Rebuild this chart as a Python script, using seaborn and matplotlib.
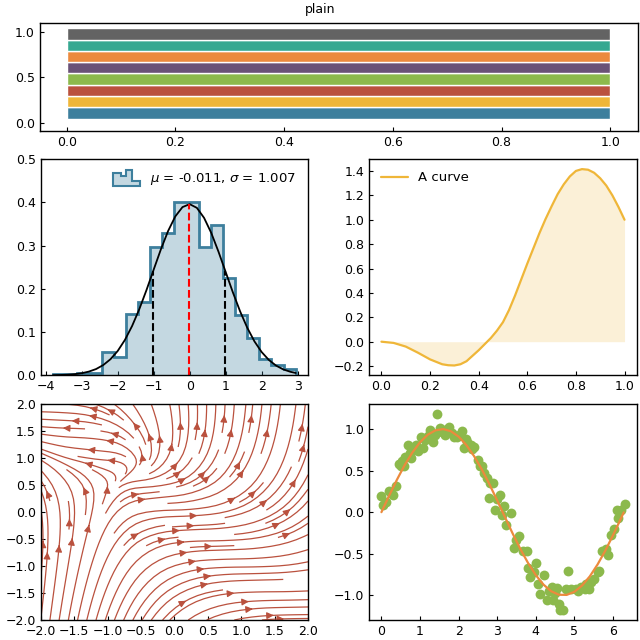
import numpy as np
import matplotlib
matplotlib.use("Agg")
import matplotlib.pyplot as plt
import seaborn as sns
from matplotlib.legend_handler import HandlerBase
from matplotlib.patches import Polygon
from matplotlib.colors import to_rgb
from matplotlib.ticker import MultipleLocator

# palette (bottom -> top)
bar_colors = ["#3d7f9d", "#efb638", "#ba513e", "#8cb94c",
              "#6a5277", "#ec8a3d", "#36a891", "#636363"]
bar_y = [0.107, 0.232, 0.357, 0.482, 0.607, 0.732, 0.857, 0.982]
bar_len = [1, 1, 1, 1, 1, 1, 1, 1]

# histogram (density) of the sample
hist_edges = [-3.80, -3.46, -3.12, -2.79, -2.45, -2.11, -1.78, -1.44, -1.10, -0.76, -0.43,
              -0.09, 0.25, 0.59, 0.92, 1.26, 1.60, 1.94, 2.27, 2.61, 2.95]
hist_dens = [0.003, 0.003, 0.006, 0.006, 0.053, 0.042, 0.142, 0.169, 0.296, 0.329,
             0.400, 0.400, 0.296, 0.347, 0.225, 0.139, 0.086, 0.037, 0.024, 0.015]
pdf_x = [-3.8, -3.6, -3.4, -3.2, -3.0, -2.8, -2.6, -2.4, -2.2, -2.0, -1.8, -1.6, -1.4,
         -1.2, -1.0, -0.8, -0.6, -0.4, -0.2, 0.0, 0.2, 0.4, 0.6, 0.8, 1.0, 1.2, 1.4,
         1.6, 1.8, 2.0, 2.2, 2.4, 2.6, 2.8, 2.95]
pdf_y = [0.0003, 0.0007, 0.0014, 0.0026, 0.0048, 0.0086, 0.0145, 0.0238, 0.0373, 0.0563,
         0.0818, 0.1141, 0.1530, 0.1973, 0.2446, 0.2915, 0.3339, 0.3677, 0.3893, 0.3962,
         0.3876, 0.3645, 0.3296, 0.2864, 0.2393, 0.1922, 0.1484, 0.1102, 0.0786, 0.0539,
         0.0356, 0.0225, 0.0137, 0.0081, 0.0053]
vline_x = [-1.018, -0.011, 0.996]
vline_top = [0.2406, 0.3962, 0.2403]
legend_label = r"$\mu$ = -0.011, $\sigma$ = 1.007"

# "A curve"
curve_x = [0.0, 0.05, 0.1, 0.15, 0.2, 0.25, 0.275, 0.3, 0.325, 0.35, 0.4, 0.45, 0.475,
           0.5, 0.525, 0.55, 0.575, 0.6, 0.625, 0.65, 0.675, 0.7, 0.725, 0.75, 0.775,
           0.8, 0.825, 0.85, 0.875, 0.9, 0.925, 0.95, 0.975, 1.0]
curve_y = [0.0, -0.01, -0.04, -0.09, -0.145, -0.185, -0.193, -0.195, -0.185, -0.16,
           -0.07, 0.03, 0.09, 0.16, 0.26, 0.38, 0.51, 0.64, 0.765, 0.89, 1.005, 1.11,
           1.21, 1.29, 1.355, 1.40, 1.415, 1.41, 1.385, 1.34, 1.28, 1.20, 1.105, 1.00]

# vector field for the streamplot
grid_x = [-2.0, -1.5, -1.0, -0.5, 0.0, 0.5, 1.0, 1.5, 2.0]
grid_y = [-2.0, -1.5, -1.0, -0.5, 0.0, 0.5, 1.0, 1.5, 2.0]
field_u = [
    [1.5, 2.0, 2.5, 3.0, 3.5, 4.0, 4.5, 5.0, 5.5],
    [1.0, 1.5, 2.0, 2.5, 3.0, 3.5, 4.0, 4.5, 5.0],
    [0.5, 1.0, 1.5, 2.0, 2.5, 3.0, 3.5, 4.0, 4.5],
    [0.0, 0.5, 1.0, 1.5, 2.0, 2.5, 3.0, 3.5, 4.0],
    [-0.5, 0.0, 0.5, 1.0, 1.5, 2.0, 2.5, 3.0, 3.5],
    [-1.0, -0.5, 0.0, 0.5, 1.0, 1.5, 2.0, 2.5, 3.0],
    [-1.5, -1.0, -0.5, 0.0, 0.5, 1.0, 1.5, 2.0, 2.5],
    [-2.0, -1.5, -1.0, -0.5, 0.0, 0.5, 1.0, 1.5, 2.0],
    [-2.5, -2.0, -1.5, -1.0, -0.5, 0.0, 0.5, 1.0, 1.5],
]
field_v = [
    [16.0, 12.25, 9.0, 6.25, 4.0, 2.25, 1.0, 0.25, 0.0],
    [12.25, 9.0, 6.25, 4.0, 2.25, 1.0, 0.25, 0.0, 0.25],
    [9.0, 6.25, 4.0, 2.25, 1.0, 0.25, 0.0, 0.25, 1.0],
    [6.25, 4.0, 2.25, 1.0, 0.25, 0.0, 0.25, 1.0, 2.25],
    [4.0, 2.25, 1.0, 0.25, 0.0, 0.25, 1.0, 2.25, 4.0],
    [2.25, 1.0, 0.25, 0.0, 0.25, 1.0, 2.25, 4.0, 6.25],
    [1.0, 0.25, 0.0, 0.25, 1.0, 2.25, 4.0, 6.25, 9.0],
    [0.25, 0.0, 0.25, 1.0, 2.25, 4.0, 6.25, 9.0, 12.25],
    [0.0, 0.25, 1.0, 2.25, 4.0, 6.25, 9.0, 12.25, 16.0],
]

# noisy sine samples
pts_x = [0.00, 0.04, 0.13, 0.19, 0.30, 0.39, 0.45, 0.53, 0.59, 0.68, 0.73, 0.77, 0.85,
         0.96, 1.03, 1.09, 1.14, 1.27, 1.33, 1.45, 1.39, 1.52, 1.65, 1.76, 1.87, 1.97,
         2.10, 2.14, 2.23, 2.31, 2.40, 2.49, 2.56, 2.66, 2.73, 2.81, 2.88, 2.79, 2.94,
         3.06, 3.12, 3.18, 3.24, 3.37, 3.43, 3.57, 3.67, 3.76, 3.80, 3.86, 4.00, 4.06,
         4.12, 4.21, 4.28, 4.41, 4.45, 4.55, 4.60, 4.64, 4.71, 4.84, 4.79, 4.92, 5.05,
         5.18, 5.27, 5.38, 5.44, 5.52, 5.65, 5.72, 5.83, 5.87, 5.96, 6.04, 6.10, 6.14,
         6.21, 6.30, 0.25, 0.50, 0.62, 0.90, 1.20, 1.58, 1.70, 1.82, 2.02, 2.18, 2.35,
         2.60, 3.00, 3.50, 3.95, 4.35, 4.50, 5.10, 5.30, 5.60]
pts_y = [0.19, 0.09, 0.12, 0.25, 0.21, 0.32, 0.58, 0.61, 0.56, 0.81, 0.71, 0.65, 0.77,
         0.74, 0.90, 0.77, 0.87, 0.99, 0.85, 1.18, 0.93, 1.01, 0.93, 1.02, 0.91, 0.90,
         0.98, 0.77, 0.85, 0.81, 0.79, 0.63, 0.55, 0.47, 0.41, 0.35, 0.35, 0.17, 0.03,
         0.21, -0.03, 0.07, -0.15, -0.01, -0.43, -0.29, -0.47, -0.47, -0.67, -0.78, -0.61,
         -0.86, -0.98, -0.76, -1.06, -0.90, -1.06, -0.91, -1.10, -1.18, -1.18, -0.71, -0.93,
         -0.93, -0.92, -0.90, -0.92, -0.92, -0.84, -0.80, -0.71, -0.47, -0.44, -0.51, -0.27,
         -0.20, 0.03, -0.07, 0.03, 0.10, 0.23, 0.55, 0.66, 0.81, 0.92, 0.96, 1.00, 0.95,
         0.93, 0.88, 0.76, 0.55, 0.16, -0.33, -0.72, -0.95, -0.97, -0.95, -0.86, -0.72]
sine_x = [0.0, 0.2, 0.4, 0.6, 0.8, 1.0, 1.2, 1.4, 1.6, 1.8, 2.0, 2.2, 2.4, 2.6, 2.8, 3.0,
          3.2, 3.4, 3.6, 3.8, 4.0, 4.2, 4.4, 4.6, 4.8, 5.0, 5.2, 5.4, 5.6, 5.8, 6.0, 6.2, 6.28]
sine_y = [0.0, 0.199, 0.389, 0.565, 0.717, 0.841, 0.932, 0.985, 1.0, 0.974, 0.909, 0.808,
          0.675, 0.516, 0.335, 0.141, -0.058, -0.256, -0.443, -0.612, -0.757, -0.872,
          -0.952, -0.994, -0.996, -0.959, -0.883, -0.773, -0.631, -0.465, -0.279, -0.083, -0.003]


class StepHandler(HandlerBase):
    # little histogram-shaped legend key
    def create_artists(self, legend, orig_handle, xdescent, ydescent, width, height, fontsize, trans):
        fx = [0.0, 0.28, 0.5, 0.7, 1.0]
        fh = [0.8, 0.6, 1.0, 0.3]
        h = height * 1.7
        y0 = -ydescent - 0.4 * height
        xy = [(-xdescent, y0)]
        for i, v in enumerate(fh):
            xy.append((-xdescent + fx[i] * width, y0 + v * h))
            xy.append((-xdescent + fx[i + 1] * width, y0 + v * h))
        xy.append((-xdescent + width, y0))
        p = Polygon(xy, closed=True, facecolor=orig_handle.get_facecolor(),
                    edgecolor=orig_handle.get_edgecolor(), linewidth=1.5, transform=trans)
        return [p]


sns.set_style("white")
plt.rcParams.update({
    "font.family": ["DejaVu Sans"],
    "font.size": 9,
    "xtick.labelsize": 9,
    "ytick.labelsize": 9,
    "legend.fontsize": 9.5,
    "xtick.direction": "in",
    "ytick.direction": "in",
    "xtick.bottom": True,
    "ytick.left": True,
    "xtick.major.size": 3,
    "ytick.major.size": 3,
    "xtick.color": "black",
    "ytick.color": "black",
    "axes.edgecolor": "black",
    "axes.linewidth": 1.0,
    "text.color": "black",
})

fig = plt.figure(figsize=(6.4, 6.4), dpi=100)
fig.suptitle("plain", y=0.985, va="center", fontsize=9)

# top: colour bars
ax0 = fig.add_axes([0.0619, 0.7958, 0.9342, 0.1678])
ax0.barh(bar_y, bar_len, left=0, height=0.125, color=bar_colors, edgecolor="white", linewidth=1)
ax0.set_xlim(-0.05, 1.05)
ax0.set_ylim(-0.09, 1.10)
ax0.set_yticks([0.0, 0.5, 1.0])

# middle left: histogram + normal pdf
ax1 = fig.add_axes([0.0636, 0.4136, 0.4177, 0.3375])
blue = bar_colors[0]
st = ax1.stairs(hist_dens, hist_edges, fill=True, facecolor=(*to_rgb(blue), 0.3),
                edgecolor=blue, linewidth=2)
sns.lineplot(x=pdf_x, y=pdf_y, ax=ax1, color="black", linewidth=1.3)
for xv, top, c in zip(vline_x, vline_top, ["black", "red", "black"]):
    ax1.plot([xv, xv], [0, top], color=c, linestyle="--", linewidth=1.5)
ax1.set_ylim(0, 0.5)
ax1.set_xlim(-4.14, 3.29)
ax1.xaxis.set_major_locator(MultipleLocator(1))
ax1.legend([st], [legend_label], loc="upper right",
           frameon=False, handler_map={type(st): StepHandler()})

# middle right: filled curve
ax2 = fig.add_axes([0.577, 0.4136, 0.4178, 0.3375])
yellow = bar_colors[1]
sns.lineplot(x=curve_x, y=curve_y, ax=ax2, color=yellow, linewidth=1.6, label="A curve")
ax2.fill_between(curve_x, curve_y, 0, color=yellow, alpha=0.2, linewidth=0)
ax2.yaxis.set_major_locator(MultipleLocator(0.2))
ax2.legend(loc="upper left", frameon=False)

# bottom left: streamlines
ax3 = fig.add_axes([0.0636, 0.03125, 0.4177, 0.337])
ax3.streamplot(np.array(grid_x), np.array(grid_y), np.array(field_u), np.array(field_v),
               color=bar_colors[2], linewidth=0.9, density=1)
ax3.set_xlim(-2, 2)
ax3.set_ylim(-2, 2)
ax3.xaxis.set_major_locator(MultipleLocator(0.5))
ax3.yaxis.set_major_locator(MultipleLocator(0.5))

# bottom right: noisy sine
ax4 = fig.add_axes([0.577, 0.03125, 0.4178, 0.337])
sns.scatterplot(x=pts_x, y=pts_y, ax=ax4, color=bar_colors[3], s=50, linewidth=0)
sns.lineplot(x=sine_x, y=sine_y, ax=ax4, color=bar_colors[5], linewidth=1.6)

for ax in [ax0, ax1, ax2, ax3, ax4]:
    for s in ax.spines.values():
        s.set_visible(True)
        s.set_color("black")

fig.savefig("out.png", dpi=100)
